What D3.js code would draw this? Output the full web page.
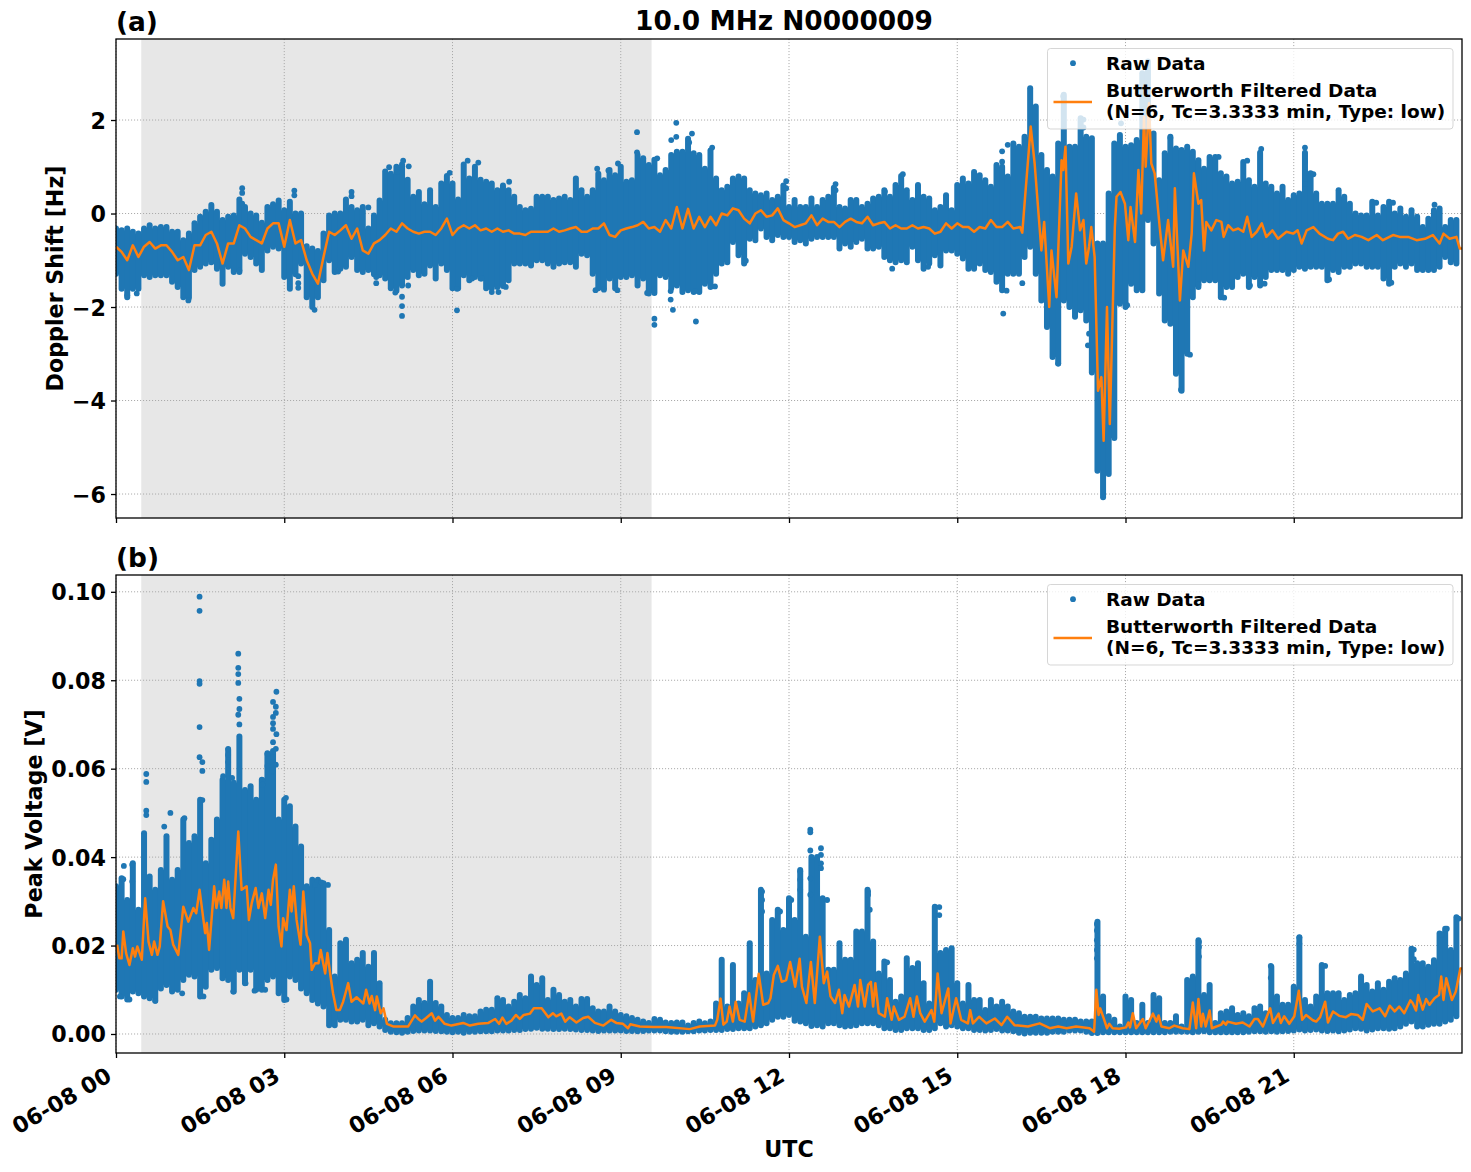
<!DOCTYPE html>
<html><head><meta charset="utf-8">
<script src="https://cdn.jsdelivr.net/npm/d3@7/dist/d3.min.js"></script>
<style>html,body{margin:0;background:#fff}svg{display:block}text{font-family:"DejaVu Sans";font-weight:bold;fill:#000}</style>
</head><body><svg id="c" width="1471" height="1172"></svg>
<script>
// ---------- values ----------
const tickHours=[0,3,6,9,12,15,18,21];
const tickLabels=["06-08 00","06-08 03","06-08 06","06-08 09","06-08 12","06-08 15","06-08 18","06-08 21"];
const dopplerTicks=[-6,-4,-2,0,2];
const voltageTicks=[0,0.02,0.04,0.06,0.08,0.10];
const nightSpan=[0.45,9.55];

// raw data body per 0.1 h column: upper and lower reach
const dopplerHigh=[-.32,-.36,-.32,-.39,-.43,-.32,-.25,-.32,-.29,-.29,
-.39,-.39,-.57,-.43,-.21,-.07,.04,.18,.04,-.14,
-.07,-.04,.3,.14,0,-.04,-.2,.14,.2,.28,
.07,.25,0,0,-.7,-.75,-.8,-.43,-.04,0,
0,.3,.14,.07,.14,-.32,-.04,.28,.9,.85,
1,1.05,.72,.36,.46,.2,.5,.14,.64,.8,
.64,.3,1.05,.75,1,.72,.68,.64,.5,.6,
.5,.36,.14,.07,.1,.36,.36,.36,.29,.32,.36,
.29,.75,.5,.36,.5,.85,.71,.93,.82,1,
.68,.71,1.25,1.18,1.04,1.15,.82,.93,1.25,1.32,
1.32,1.6,1.29,1.25,.96,1.35,.75,.5,.57,.75,
.79,.75,.5,.43,.39,.43,.29,.36,.6,.14,
.29,.14,.14,.32,.14,.29,.36,.55,.14,.11,
.29,.29,.14,.21,.32,.36,.5,.36,.61,.8,
.5,.29,.61,.36,.32,.07,.14,.39,.07,.61,
.75,.64,.89,.82,.71,.57,1.04,1,.79,1.5,1.43,
1.64,2.68,2.29,1.25,.93,.79,1.5,2.54,1.43,1.43,
2.04,1.64,1.61,-.64,-.64,.43,1.5,1.68,1.43,1.46,
1.57,3,3.25,1.71,.71,1.29,1.64,1.39,1.36,1.43,
1.32,1.14,.96,1.21,1.21,.86,.79,.64,.68,1.1,
.71,.57,1.3,.64,.57,.43,.57,.29,.39,.43,
1.3,.86,.43,.21,.21,.21,.5,.36,.21,0,
-.04,-.04,.25,-.04,.14,.25,0,.11,-.07,.07,
-.07,-.29,-.11,.07,.11,-.29,-.14,-.14];
const dopplerLow=[-1.29,-1.61,-1.79,-1.61,-1.61,-1.32,-1.36,-1.32,-1.32,-1.32,
-1.46,-1.57,-1.79,-1.8,-1.21,-1.14,-1.07,-1.04,-1.18,-1.5,
-1.14,-1.25,-1.25,-.86,-.93,-1.07,-1.21,-.79,-.71,-.75,
-1.36,-1.61,-1.3,-1.07,-1.79,-2,-1.79,-1.43,-1,-1.25,
-1.18,-1.14,-.93,-1.21,-1.25,-1.21,-1.3,-1.32,-1.39,-1.6,
-1.65,-1.54,-1.36,-1.21,-1.32,-1.29,-1.11,-1.39,-1.07,-1.21,
-1.6,-1.6,-1.32,-1.43,-1.36,-1.39,-1.6,-1.6,-1.57,-1.55,
-1.43,-1.07,-1.07,-1.07,-1.11,-1,-1,-1.07,-1.14,-1.07,-1.04,
-1.04,-1.14,-.86,-.89,-1.29,-1.6,-1.6,-1.39,-1.6,-1.36,
-1.36,-1.32,-1.54,-1.39,-1.71,-1.7,-1.32,-1.36,-1.6,-1.54,
-1.68,-1.64,-1.68,-1.68,-1.5,-1.57,-1.29,-1.07,-1.04,-.61,
-.89,-1.07,-.54,-.57,-.32,-.5,-.57,-.46,-.5,-.5,
-.61,-.57,-.64,-.54,-.5,-.5,-.5,-.5,-.75,-.64,
-.71,-.61,-.54,-.75,-.75,-.71,-.93,-1,-1.04,-1,
-1.04,-.71,-1,-1.18,-1.07,-.89,-1.11,-.79,-.79,-.86,
-.96,-1.18,-1.18,-1.07,-1.21,-1.25,-1.46,-1.64,-1.29,-1.29,-1.29,
-.93,-.71,-1.29,-1.86,-2.43,-3.07,-3.21,-1.86,-2,-2.21,
-2.07,-2.29,-3.4,-5.5,-6.07,-5.57,-4.8,-1.93,-2,-1.5,
-1.64,-1.64,-.14,-.64,-1.71,-2.29,-2.36,-3.43,-3.79,-3,
-1.79,-1.57,-1.43,-1.43,-1.43,-1.79,-1.57,-1.57,-1.36,-1.29,
-1.57,-1.36,-1.54,-1.36,-1.21,-1.21,-1.21,-1.29,-1.21,-1.14,
-1.18,-1.14,-1.14,-1.14,-1.43,-1.21,-1.25,-1.14,-1.14,-1.07,
-1.07,-1.14,-1.14,-1.14,-1.39,-1.5,-1.14,-1.07,-1.14,-1.07,
-1.21,-1.21,-1.21,-1.21,-1.14,-.93,-1.04,-1.07];
const voltageHigh=[.0334,.0352,.0303,.0386,.0281,.0454,.0356,.0326,.0371,.0447,
.0349,.0371,.0485,.0432,.0447,.053,.0386,.0439,.0485,.0575,
.0643,.0568,.0673,.0552,.056,.053,.0575,.0635,.0640,.0485,
.053,.0515,.0469,.0424,.0334,.0349,.0349,.0341,.0235,.013,
.0205,.0213,.016,.0168,.0183,.0152,.0183,.0115,.0032,.0024,.0024,.0024,
.0036,.0062,.0077,.007,.0118,.007,.0062,.0043,.0036,.0036,
.0043,.004,.004,.0051,.0055,.0055,.0081,.0077,.0062,.0073,
.0088,.0081,.013,.0111,.0126,.0077,.01,.0088,.0073,.0077,
.0062,.0079,.0079,.0058,.0051,.0051,.0062,.0051,.0043,.004,
.0036,.0032,.0028,.0025,.0034,.0032,.0026,.0025,.0026,.0026,
.0019,.0025,.0028,
.0024,.0028,.0069,.0168,.0062,.0156,.0069,.0092,.0205,.0122,
.0326,.0137,.0258,.0281,.0235,.0307,.0258,.0371,.022,.04,
.04,.0307,.0145,.0145,.0205,.0168,.0168,.0232,.0232,.0326,
.0209,.0137,.0164,.0122,.0073,.0085,.0171,.0149,.016,.0115,
.0069,.0288,.0183,.019,.0194,.0115,.0069,.0111,.0077,.0077,
.0054,.0077,.0062,.0073,.0062,.0051,.0047,.0039,.0039,.0039,
.0035,.0035,.0035,.0035,.0032,.0032,.0032,.0028,.0028,.0028,.0254,
.0085,.004,.0032,.0017,.0085,.0077,.0025,.0066,.0025,.0088,
.0081,.0025,.0025,.004,.0017,.0122,.013,.0212,.0088,.0111,
.0025,.0047,.0051,.0058,.0043,.0047,.004,.0058,.0062,.0047,
.0152,.0085,.0066,.0066,.0107,.0219,.0077,.0062,.0085,.0156,
.0092,.0092,.0092,.0077,.0088,.0092,.013,.0111,.0096,.0115,
.01,.0118,.0126,.0122,.0137,.0193,.016,.016,.0152,.0167,
.0227,.0238,.019,.0264];
const voltageLow=[.01,.0085,.0078,.0096,.0092,.0085,.0081,.0075,.0103,.0111,
.0096,.01,.0122,.0134,.013,.0085,.0107,.0145,.0149,.0126,
.0122,.0096,.0145,.0115,.0145,.01,.01,.0122,.013,.0092,
.0077,.013,.0122,.0103,.0092,.0077,.0069,.0062,.002,.002,
.0032,.0032,.0028,.0028,.0032,.002,.0024,.0017,.0009,.0005,.0004,.0003,
.0005,.0007,.0008,.0008,.0008,.0007,.0006,.0005,.0004,.0005,
.0003,.0005,.0005,.0006,.0006,.0006,.0008,.0008,.0008,.0009,
.0009,.0011,.0012,.0014,.0012,.0012,.0011,.0011,.0012,.0011,
.001,.0009,.0009,.0008,.0007,.0008,.0008,.0008,.0008,.0007,
.0007,.0006,.0007,.0008,.0008,.0008,.0006,.0005,.0005,.0005,
.0006,.0006,.0008,
.0008,.0009,.0009,.0009,.0011,.0011,.0013,.0013,.0013,.0017,
.002,.0024,.0032,.0039,.0039,.0043,.003,.0028,.0024,.0018,
.002,.0017,.0024,.0024,.002,.0017,.0018,.002,.0024,.0024,
.0024,.002,.0013,.0013,.0009,.0009,.0013,.0013,.0013,.0009,
.0009,.0013,.0024,.0017,.002,.0017,.0013,.0013,.0009,.0009,
.0008,.0009,.0011,.0008,.0008,.0006,.0003,.0001,.0003,.0003,
.0003,.0003,.0005,.0005,.0005,.0008,.0008,.0008,.0005,.0002,.0002,
.0004,.0004,.0004,.0004,.0004,.0004,.0004,.0004,.0004,.0004,
.0004,.0004,.0005,.0005,.0005,.0005,.0004,.0005,.0006,.0004,
.0004,.0004,.0004,.0004,.0004,.0004,.0005,.0006,.0006,.0005,
.0006,.0005,.0006,.0007,.0008,.001,.0008,.0009,.001,.0008,
.0007,.0008,.0006,.0008,.001,.0013,.0012,.0008,.001,.0013,
.0013,.0012,.0013,.0017,.0023,.0028,.0017,.0017,.0021,.0023,
.0023,.0028,.0032,.004];

// isolated raw points
const dopplerDotHours=[2.25,2.25,2.25,3.18,3.18,4.20,4.20,4.50,4.87,5.02,5.12,5.22,6.27,6.46,5.95,7.01,1.29,3.54,3.25,3.25,3.25,5.10,5.10,5.10,4.98,5.21,6.08,6.08,6.70,6.82,6.95,6.35,6.52,2.20,.37,.20,3.96,4.64,4.64,
9.99,9.29,10.27,9.99,9.90,10.22,9.29,10.63,9.65,8.58,8.78,8.95,11.95,11.95,12.83,12.83,14.03,13.71,15.80,15.80,15.9,
9.60,9.60,9.93,10.34,9.47,9.89,9.89,8.55,8.70,8.94,10.68,10.33,13.84,14.48,15.82,15.88,11.23,
20.42,21.2,21.2,21.2,21.2,21.35,20.17,19.66,23.51,22.47,22.77,18.99,19.15,16.8,17.33,17.35,18.03,19.76,19.3,20.22,20.48,22.74,21.63,16.16,17.25,17.25,16.89,18.8,17.92];
const dopplerDotValues=[.54,.44,.21,.49,.39,.46,.37,.13,.99,.89,1.13,1.01,1.13,1.09,.87,.68,-1.86,-2.06,-1.34,-1.49,-1.59,-2.19,-1.98,-1.78,-1.69,-1.54,-2.07,-1.61,-1.68,-1.68,-1.57,-1.39,-1.39,-1.22,-1.71,-1.75,-1.24,-1.36,-1.49,
1.94,1.74,1.71,1.64,1.57,1.52,1.31,1.41,1.18,.96,.92,1.07,.69,.54,.63,.5,.84,.47,1.33,1.11,1.47,
-2.25,-2.38,-2.06,-2.31,-1.7,-1.84,-1.66,-1.64,-1.63,-1.64,-1.56,-1.66,-1.18,-1.14,-2.14,-1.65,-1.01,
1.38,1.41,1.11,.88,.63,.84,1.13,1.21,.19,.23,.23,-3.77,-3.02,-3.21,-2.82,-2.57,-1.96,-1.8,-1.52,-1.54,-1.5,-1.48,-1.41,-1.49,2.01,1.84,2.51,1.62,1.93];
const voltageDotHours=[1.49,1.49,1.49,1.49,1.49,1.49,1.54,1.54,1.54,2.18,2.18,2.18,2.18,2.2,2.2,2.18,2.2,2.86,2.80,2.85,2.85,2.8,2.8,2.8,2.86,2.8,2.85,2.70,2.8,2.7,2.85,2.79,.54,.54,.54,.54,2.0,2.0,2.0,1.91,2.07,2.61,2.61,3.03,.97,1.22,.86,.14,.29,.13,.29,3.66,3.78,3.55,
.24,.7,.07,1.18,2.09,2.47,2.66,3.04,1.56,2.31,
12.38,12.38,12.38,12.38,12.38,12.57,12.57,12.57,12.57,12.2,12.2,12.2,11.52,11.52,11.52,11.84,13.41,13.41,13.44,14.68,14.68,13.75,12.04,12.68,
17.49,17.49,17.49,17.49,17.49,20.59,20.59,19.31,19.31,19.31,23.14,23.14,23.73,23.64,23.94,21.56,21.1,21.1];
const voltageDotValues=[.0989,.0957,.0798,.0792,.0694,.0626,.0615,.0595,.0529,.086,.0828,.0814,.0794,.0758,.0735,.0722,.07,.0774,.0751,.074,.0726,.0717,.0703,.069,.0678,.066,.0645,.0633,.0626,.0606,.0609,.0594,.0588,.057,.0505,.0495,.0645,.0631,.0615,.0583,.0579,.0574,.0564,.0534,.05,.0488,.0469,.038,.0383,.035,.0345,.0343,.0337,.0337,
.0078,.0075,.0085,.0092,.0096,.0098,.01,.0078,.0085,.0115,
.0462,.0456,.0415,.0352,.0315,.042,.0405,.0386,.0375,.0368,.0349,.0326,.0322,.0303,.0277,.0277,.0322,.0315,.0281,.0287,.0269,.0162,.0303,.0303,
.0249,.0234,.0212,.019,.0171,.0154,.0127,.0208,.0197,.0175,.0191,.0169,.0238,.0225,.0261,.0154,.0218,.0204];

// filtered line: first part every 0.1 h, then read point by point
const dopplerFilteredEven=[-.71,-.82,-1,-.68,-.93,-.71,-.61,-.75,-.68,-.68,
-.82,-1,-.93,-1.21,-.68,-.68,-.46,-.39,-.64,-1.07,
-.64,-.64,-.25,-.32,-.5,-.57,-.64,-.32,-.21,-.21,
-.71,-.14,-.64,-.57,-1,-1.29,-1.5,-.93,-.39,-.46,
-.36,-.25,-.54,-.32,-.79,-.86,-.64,-.57,-.46,-.32,
-.39,-.21,-.32,-.39,-.43,-.39,-.39,-.46,-.32,-.11,
-.46,-.32,-.25,-.32,-.25,-.36,-.32,-.39,-.32,-.39,
-.36,-.43,-.43,-.46,-.39,-.39,-.39,-.39,-.32,-.39,-.36,
-.32,-.29,-.39,-.39,-.32,-.32,-.21,-.46,-.5,-.36,
-.32,-.29,-.25,-.18,-.32,-.29,-.39,-.14,-.32,.14,
-.32,.1,-.32,-.07,-.29,-.07,-.25,0,-.04,.11,
.07,-.11,-.21,0,.07,-.07,-.04,.11,-.14,-.21,
-.29,-.25,-.21,-.04,-.25,-.11,-.18,-.18,-.29,-.18,
-.11,-.18,-.21,-.07,-.25,-.21,-.18,-.32,-.25,-.32,
-.32,-.25,-.32,-.29,-.32,-.43,-.39,-.21,-.32,-.21,
-.29,-.29,-.39,-.29,-.32,-.14,-.29,-.29,-.18,-.32];
const dopplerFilteredHours=[16.12,16.16,16.21,16.31,16.38,16.44,16.50,16.55,16.64,16.68,16.77,16.86,16.89,16.93,16.98,17.04,17.12,17.19,17.25,17.30,17.35,17.39,17.45,17.51,17.57,17.61,17.67,17.72,17.81,17.84,17.91,17.99,18.05,18.09,18.17,18.23,18.28,18.33,18.36,18.42,18.46,18.52,18.61,18.67,18.76,18.85,18.88,18.97,19.03,19.12,19.18,19.22,19.30,19.35,19.40,19.44,19.53,19.62,19.71,19.75,19.83,19.92,20.01,20.10,20.17,20.25,20.34,20.43,20.51,20.62,20.72,20.87,20.99,21.07,21.14,21.23,21.35,21.46,21.61,21.70,21.79,21.88,21.97,22.09,22.21,22.33,22.48,22.59,22.77,22.89,23.04,23.19,23.34,23.48,23.60,23.67,23.78,23.90,23.96,24];
const dopplerFilteredValues=[-.29,-.41,.36,1.86,1.07,.14,-.79,-.18,-2,-.79,-1.79,1.14,.93,1.43,-1.07,-.71,.43,-.36,-.14,-1.07,-.71,-.29,-.93,-3.79,-3.5,-4.86,-2,-4.5,-.29,.36,.46,.21,-.57,.14,-.61,.93,0,2.07,1,2.36,1.07,.86,-.29,-1,-.14,-1.14,.54,-1.86,-.79,-1.14,-.43,.86,.21,.29,-.79,-.18,-.36,-.14,-.18,-.5,-.25,-.36,-.32,-.39,-.07,-.5,-.39,-.21,-.5,-.36,-.54,-.39,-.43,-.36,-.64,-.36,-.29,-.43,-.54,-.57,-.43,-.39,-.54,-.46,-.5,-.57,-.46,-.57,-.46,-.5,-.5,-.57,-.54,-.46,-.64,-.43,-.54,-.5,-.75,-.75];
const voltageFilteredHours=[.02,.06,.10,.13,.18,.24,.30,.34,.38,.46,.52,.58,.64,.68,.74,.78,.84,.92,.97,1.02,1.11,1.20,1.29,1.38,1.43,1.49,1.59,1.62,1.66,1.75,1.79,1.84,1.88,1.93,1.97,2.0,2.04,2.09,2.18,2.24,2.33,2.37,2.42,2.49,2.54,2.6,2.66,2.72,2.76,2.8,2.85,2.9,2.95,2.98,3.04,3.1,3.13,3.17,3.22,3.29,3.34,3.4,3.46,3.49,3.55,3.61,3.65,3.73,3.77,3.83,3.87,3.93,3.99,4.05,4.10,4.14,4.2,4.29,4.41,4.46,4.52,4.56,4.62,4.65,4.72,4.77,4.83,4.94,5.12,5.21,
5.33,5.39,5.45,5.53,5.63,5.69,5.75,5.86,5.98,6.19,6.31,6.46,6.64,6.76,6.83,6.89,6.96,7.05,7.13,7.2,7.27,7.38,7.45,7.59,7.71,7.79,7.85,7.94,8.01,8.09,8.21,8.33,8.42,8.54,8.69,8.83,8.92,9.04,9.13,9.17,9.34,9.58,9.81,10.23,10.41,10.68,10.72,10.78,10.83,10.89,10.94,11.0,11.05,11.12,11.21,11.29,11.36,11.46,11.54,11.63,11.67,11.73,11.8,11.87,11.95,12.02,12.11,12.19,12.23,12.31,12.39,12.46,12.55,12.62,12.68,12.74,12.82,12.89,12.95,12.99,13.07,13.17,13.23,13.27,13.35,13.41,13.46,13.5,13.54,13.6,13.71,13.75,13.83,13.87,13.96,14.06,14.16,14.22,14.28,14.34,14.42,14.54,14.59,14.65,14.72,14.84,14.88,14.98,15.07,15.19,15.23,15.28,15.39,15.52,15.67,15.79,15.89,16.02,16.26,16.47,16.65,16.8,16.95,17.12,17.36,17.44,17.48,17.52,17.55,17.61,17.67,17.71,17.77,17.89,18.01,18.05,18.08,18.13,18.19,18.31,18.36,18.49,18.55,18.59,18.64,18.78,18.87,19.02,19.14,19.2,19.26,19.3,19.35,19.38,19.43,19.5,19.54,19.71,19.74,19.79,19.82,19.97,20.09,20.21,20.3,20.36,20.45,20.58,20.63,20.73,20.77,20.83,20.92,21.01,21.09,21.15,21.22,21.34,21.4,21.47,21.56,21.61,21.7,21.81,21.93,22.02,22.14,22.23,22.3,22.41,22.53,22.63,22.71,22.8,22.88,22.97,23.08,23.12,23.18,23.22,23.3,23.36,23.42,23.51,23.59,23.63,23.67,23.72,23.82,23.89,23.97,24];
const voltageFilteredValues=[.0202,.0171,.0171,.0232,.0183,.0156,.0194,.0175,.0198,.0168,.0307,.0209,.0179,.0209,.0179,.0198,.03,.0243,.0235,.0202,.0179,.0288,.0254,.0285,.0273,.0326,.0228,.0251,.019,.0334,.0285,.0322,.0285,.0349,.0285,.0345,.0285,.0262,.0458,.0326,.0334,.0258,.0296,.033,.0285,.0318,.0262,.0326,.0292,.0349,.0383,.0243,.0198,.0262,.0235,.0326,.0277,.0334,.0258,.0202,.0322,.0224,.0205,.0145,.016,.016,.019,.0137,.0183,.0126,.0092,.0054,.0054,.0073,.0096,.0115,.0073,.0083,.0069,.01,.0069,.0086,.0054,.0085,.0047,.0058,.0023,.0017,.0017,.0017,
.0042,.0034,.0028,.0036,.0047,.003,.0039,.0023,.0019,.0025,.0019,.0023,.0025,.0034,.0023,.0037,.0023,.003,.0043,.0034,.0043,.0046,.0058,.0058,.0038,.0047,.004,.0046,.0028,.0038,.0026,.0036,.0039,.0025,.0019,.0032,.0025,.0023,.0013,.0022,.0017,.0016,.0016,.0011,.0017,.0019,.0032,.008,.0021,.0028,.0062,.0028,.0073,.0032,.0028,.0092,.0028,.0136,.0066,.007,.0081,.0134,.0154,.0118,.0122,.0163,.0107,.017,.0107,.007,.0163,.007,.022,.0115,.0141,.0085,.007,.01,.0047,.0088,.0062,.0111,.0062,.0122,.0062,.0111,.0118,.0062,.0115,.0047,.0039,.0081,.0032,.0062,.0032,.0039,.0081,.0039,.0085,.0047,.0028,.0054,.0028,.0137,.0047,.0103,.0024,.0081,.0032,.0024,.0054,.0024,.0039,.0024,.0035,.002,.0039,.002,.0017,.0024,.0013,.0017,.0013,.0017,.0013,.0005,.01,.0043,.0058,.0036,.0013,.0023,.0013,.0012,.0015,.0026,.0015,.0047,.0013,.0034,.0013,.0046,.0028,.0042,.0017,.0013,.0019,.0013,.0011,.0071,.0013,.0079,.0017,.0046,.0017,.0053,.0013,.0021,.0028,.0021,.0028,.0023,.0026,.0017,.0034,.0034,.0017,.0058,.0025,.0046,.0025,.004,.0023,.004,.0098,.0032,.0043,.0031,.0028,.0038,.0073,.0026,.0051,.0041,.0038,.0045,.0043,.0032,.0068,.0051,.0058,.004,.0064,.0051,.0062,.0047,.0076,.007,.0053,.0088,.0055,.0079,.0066,.0081,.0088,.013,.0077,.0126,.0077,.0096,.0148,.0148];

const titleText="10.0 MHz N0000009";
const legendRaw="Raw Data";
const legendFiltered=["Butterworth Filtered Data","(N=6, Tc=3.3333 min, Type: low)"];

// ---------- drawing ----------
const svg=d3.select("#c");
const BLUE="#1f77b4",ORANGE="#ff7f0e";
const left=116,right=1462;
const x=d3.scaleLinear().domain([0,24]).range([left,right]);
const yA=d3.scaleLinear().domain([-6.513,3.733]).range([518,39]);
const yB=d3.scaleLinear().domain([-.0043,.1038]).range([1053,575]);

function panel(id,y,yTicks,yFmt,high,low,dotH,dotV,lineH,lineV,tag,ylabel,ylabelX){
  const [bot,top]=y.range();
  const g=svg.append("g");
  svg.append("clipPath").attr("id","clip"+id).append("rect").attr("x",left).attr("y",top).attr("width",right-left).attr("height",bot-top);
  g.append("rect").attr("x",x(nightSpan[0])).attr("width",x(nightSpan[1])-x(nightSpan[0])).attr("y",top).attr("height",bot-top).attr("fill","#000").attr("fill-opacity",.095);
  const grid=g.append("g").attr("stroke","#aaa").attr("stroke-width",1).attr("stroke-dasharray","1.1,1.9");
  grid.selectAll(".v").data(tickHours).join("line").attr("x1",d=>x(d)).attr("x2",d=>x(d)).attr("y1",top).attr("y2",bot);
  grid.selectAll(".h").data(yTicks).join("line").attr("x1",left).attr("x2",right).attr("y1",d=>y(d)).attr("y2",d=>y(d));
  const body=g.append("g").attr("clip-path",`url(#clip${id})`);
  // shared reach of neighbouring columns, so the body stays solid between them
  body.append("g").attr("fill",BLUE).selectAll("rect").data(high.slice(0,-1)).join("rect")
    .attr("x",(d,i)=>x(i/10)).attr("width",(d,i)=>x((i+1)/10)-x(i/10))
    .attr("y",(d,i)=>y(Math.min(d,high[i+1])))
    .attr("height",(d,i)=>Math.max(0,y(Math.max(low[i],low[i+1]))-y(Math.min(d,high[i+1]))));
  body.append("g").attr("stroke",BLUE).attr("stroke-width",6).attr("stroke-linecap","round")
    .selectAll("line").data(high).join("line")
    .attr("x1",(d,i)=>x(i/10)).attr("x2",(d,i)=>x(i/10))
    .attr("y1",d=>y(d)).attr("y2",(d,i)=>y(low[i]));
  body.append("g").attr("fill",BLUE).selectAll("circle").data(dotH).join("circle")
    .attr("cx",d=>x(d)).attr("cy",(d,i)=>y(dotV[i])).attr("r",2.9);
  const line=d3.line().x(d=>x(d[0])).y(d=>y(d[1]));
  body.append("path").attr("d",line(lineH.map((h,i)=>[h,lineV[i]]))).attr("fill","none").attr("stroke",ORANGE).attr("stroke-width",2.5).attr("stroke-linejoin","round");
  // axes
  const ax=d3.axisLeft(y).tickValues(yTicks).tickFormat(yFmt).tickSize(5).tickPadding(5);
  const ag=g.append("g").attr("transform",`translate(${left},0)`).call(ax);
  ag.select(".domain").remove();
  ag.selectAll("line").attr("stroke","#000").attr("stroke-width",1.3);
  ag.selectAll("text").attr("dy","0.36em").style("font-size","22.2px").style("font-family","DejaVu Sans").style("font-weight","bold");
  const bx=d3.axisBottom(x).tickValues(tickHours).tickFormat("").tickSize(5);
  const bg=g.append("g").attr("transform",`translate(0,${bot})`).call(bx);
  bg.select(".domain").remove();
  bg.selectAll("line").attr("stroke","#000").attr("stroke-width",1.3);
  g.append("rect").attr("x",left).attr("y",top).attr("width",right-left).attr("height",bot-top).attr("fill","none").attr("stroke","#000").attr("stroke-width",1.3);
  // legend
  const lx=1047.5,ly=top+9.5;
  const lg=g.append("g");
  lg.append("rect").attr("x",lx).attr("y",ly).attr("width",405.5).attr("height",80.5).attr("rx",3).attr("fill","#fff").attr("fill-opacity",.8).attr("stroke","#ccc").attr("stroke-opacity",.8);
  lg.append("circle").attr("cx",1073).attr("cy",ly+14.7).attr("r",2.9).attr("fill",BLUE);
  lg.append("line").attr("x1",1053.5).attr("x2",1092).attr("y1",ly+53.5).attr("y2",ly+53.5).attr("stroke",ORANGE).attr("stroke-width",2.5);
  lg.append("text").attr("x",1106).attr("y",ly+21).style("font-size","18.5px").text(legendRaw);
  legendFiltered.forEach((s,i)=>lg.append("text").attr("x",1106).attr("y",ly+48.5+i*21).style("font-size","18.5px").text(s));
  g.append("text").attr("x",left).attr("y",top-8).style("font-size","26.4px").text(tag);
  g.append("text").attr("transform",`translate(${ylabelX},${(top+bot)/2}) rotate(-90)`).attr("text-anchor","middle").style("font-size","22.2px").text(ylabel);
}
const hoursEven=dopplerFilteredEven.map((d,i)=>i/10);
panel("A",yA,dopplerTicks,d3.format("d"),dopplerHigh,dopplerLow,dopplerDotHours,dopplerDotValues,
  hoursEven.concat(dopplerFilteredHours),dopplerFilteredEven.concat(dopplerFilteredValues),"(a)","Doppler Shift [Hz]",62.5);
panel("B",yB,voltageTicks,d3.format(".2f"),voltageHigh,voltageLow,voltageDotHours,voltageDotValues,
  voltageFilteredHours,voltageFilteredValues,"(b)","Peak Voltage [V]",41.5);
svg.append("text").attr("x",784).attr("y",30).attr("text-anchor","middle").style("font-size","26.4px").text(titleText);
svg.append("text").attr("x",(left+right)/2).attr("y",1157).attr("text-anchor","middle").style("font-size","22.2px").text("UTC");
svg.append("g").selectAll("text").data(tickHours).join("text")
  .attr("transform",d=>`translate(${x(d)-3},1080) rotate(-30)`).attr("text-anchor","end").style("font-size","22.2px").text((d,i)=>tickLabels[i]);
</script></body></html>
